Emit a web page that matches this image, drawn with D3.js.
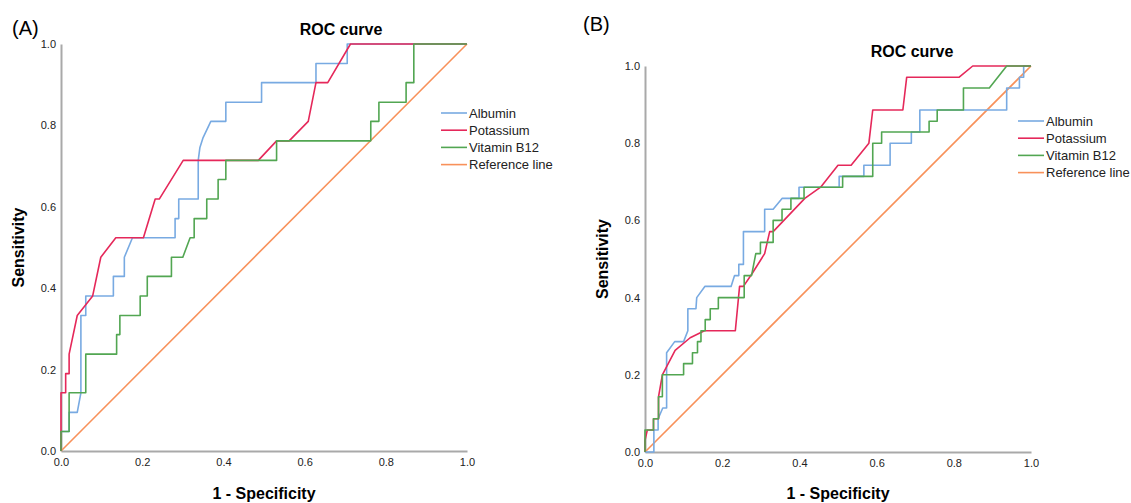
<!DOCTYPE html>
<html>
<head>
<meta charset="utf-8">
<script src="https://cdn.jsdelivr.net/npm/d3@7"></script>
<style>
  body { margin: 0; background: #fff; }
  svg { display: block; font-family: "Liberation Sans", Arial, sans-serif; }
</style>
</head>
<body>
<div id="chart"></div>
<script>
const series = ["Albumin", "Potassium", "Vitamin B12", "Reference line"];
const colors = ["#78aae2", "#e5285a", "#52a652", "#f8915a"];
const ticks = [0, 0.2, 0.4, 0.6, 0.8, 1.0];

// panel A points: [1 - specificity, sensitivity]
const albuminA = [[0,0],[0,0.048],[0.02,0.048],[0.02,0.095],[0.04,0.095],[0.049,0.143],[0.049,0.333],[0.061,0.333],[0.061,0.381],[0.129,0.381],[0.129,0.429],[0.156,0.429],[0.156,0.476],[0.176,0.524],[0.281,0.524],[0.281,0.571],[0.29,0.571],[0.29,0.619],[0.338,0.619],[0.338,0.714],[0.342,0.745],[0.35,0.77],[0.369,0.81],[0.406,0.81],[0.406,0.857],[0.494,0.857],[0.494,0.905],[0.628,0.905],[0.628,0.952],[0.705,0.952],[0.705,1],[1,1]];
const potassiumA = [[0,0],[0,0.143],[0.0115,0.143],[0.0115,0.19],[0.02,0.19],[0.02,0.238],[0.04,0.333],[0.078,0.381],[0.098,0.476],[0.135,0.524],[0.203,0.524],[0.232,0.619],[0.242,0.619],[0.301,0.714],[0.486,0.714],[0.531,0.762],[0.562,0.762],[0.609,0.81],[0.628,0.905],[0.657,0.905],[0.713,1],[1,1]];
const vitaminA = [[0,0],[0,0.048],[0.02,0.048],[0.02,0.143],[0.061,0.143],[0.061,0.238],[0.137,0.238],[0.137,0.286],[0.145,0.286],[0.145,0.333],[0.195,0.333],[0.195,0.381],[0.2125,0.381],[0.2125,0.429],[0.272,0.429],[0.272,0.476],[0.30,0.476],[0.318,0.524],[0.328,0.524],[0.328,0.571],[0.359,0.571],[0.359,0.619],[0.387,0.619],[0.387,0.667],[0.406,0.667],[0.406,0.714],[0.531,0.714],[0.531,0.762],[0.763,0.762],[0.763,0.81],[0.783,0.81],[0.783,0.857],[0.85,0.857],[0.85,0.905],[0.869,0.905],[0.869,1],[1,1]];

// panel B points
const albuminB = [[0,0],[0.023,0],[0.023,0.057],[0.034,0.057],[0.034,0.086],[0.046,0.114],[0.056,0.114],[0.056,0.257],[0.077,0.286],[0.1,0.286],[0.111,0.314],[0.111,0.371],[0.132,0.371],[0.134,0.4],[0.155,0.429],[0.223,0.429],[0.232,0.457],[0.243,0.457],[0.243,0.486],[0.255,0.486],[0.255,0.571],[0.31,0.571],[0.31,0.629],[0.332,0.629],[0.355,0.657],[0.399,0.657],[0.399,0.686],[0.503,0.686],[0.503,0.714],[0.567,0.714],[0.567,0.743],[0.635,0.743],[0.635,0.8],[0.69,0.8],[0.69,0.829],[0.712,0.829],[0.712,0.886],[0.937,0.886],[0.937,0.943],[0.97,0.943],[0.97,0.971],[0.981,0.971],[0.981,1],[1,1]];
const potassiumB = [[0,0],[0,0.03],[0.006,0.057],[0.022,0.057],[0.022,0.086],[0.035,0.086],[0.035,0.143],[0.045,0.2],[0.078,0.263],[0.117,0.296],[0.154,0.314],[0.234,0.314],[0.245,0.429],[0.255,0.429],[0.278,0.463],[0.31,0.514],[0.323,0.571],[0.332,0.571],[0.414,0.657],[0.455,0.686],[0.5,0.743],[0.534,0.743],[0.58,0.8],[0.59,0.886],[0.668,0.886],[0.678,0.971],[0.814,0.971],[0.849,1],[1,1]];
const vitaminB = [[0,0],[0,0.057],[0.022,0.057],[0.022,0.086],[0.035,0.086],[0.035,0.143],[0.045,0.143],[0.045,0.2],[0.1,0.2],[0.1,0.229],[0.123,0.229],[0.123,0.257],[0.136,0.257],[0.136,0.286],[0.145,0.286],[0.145,0.314],[0.156,0.314],[0.156,0.343],[0.169,0.343],[0.169,0.371],[0.19,0.371],[0.19,0.4],[0.257,0.4],[0.257,0.457],[0.276,0.457],[0.287,0.514],[0.299,0.514],[0.299,0.543],[0.332,0.543],[0.332,0.6],[0.355,0.6],[0.355,0.629],[0.378,0.629],[0.378,0.657],[0.412,0.657],[0.412,0.686],[0.512,0.686],[0.512,0.714],[0.59,0.714],[0.59,0.8],[0.613,0.8],[0.613,0.829],[0.736,0.829],[0.736,0.857],[0.757,0.857],[0.757,0.886],[0.825,0.886],[0.825,0.943],[0.892,0.943],[0.937,1],[1,1]];
const referenceLine = [[0,0],[1,1]];

const width = 1131, height = 503;
const svg = d3.select("#chart").append("svg").attr("width", width).attr("height", height);

const panels = [
  { tag: "(A)", tagX: 12, tagY: 35, x0: 61, x1: 467, y0: 451, y1: 44, titleX: 341, titleY: 35,
    yLabX: 24, legX: 441, legY: 113, data: [albuminA, potassiumA, vitaminA, referenceLine] },
  { tag: "(B)", tagX: 583, tagY: 31, x0: 645, x1: 1031, y0: 452, y1: 66, titleX: 912, titleY: 57,
    yLabX: 608, legX: 1018, legY: 121, data: [albuminB, potassiumB, vitaminB, referenceLine] }
];

panels.forEach((p) => {
  const x = d3.scaleLinear().domain([0, 1]).range([p.x0, p.x1]);
  const y = d3.scaleLinear().domain([0, 1]).range([p.y0, p.y1]);
  const g = svg.append("g");

  g.append("text").attr("x", p.tagX).attr("y", p.tagY).attr("font-size", 20).text(p.tag);

  g.append("text")
    .attr("x", p.titleX).attr("y", p.titleY)
    .attr("text-anchor", "middle").attr("font-size", 16).attr("font-weight", "bold")
    .text("ROC curve");

  // axes
  const xAxis = g.append("g")
    .attr("transform", `translate(0,${p.y0})`)
    .call(d3.axisBottom(x).tickValues(ticks).tickFormat(d3.format(".1f")).tickSize(0).tickPadding(7));
  const yAxis = g.append("g")
    .attr("transform", `translate(${p.x0},0)`)
    .call(d3.axisLeft(y).tickValues(ticks).tickFormat(d3.format(".1f")).tickSize(0).tickPadding(5));
  [xAxis, yAxis].forEach((a) => {
    a.select(".domain").attr("stroke", "#a9a9a9").attr("stroke-width", 2);
    a.selectAll("text").attr("font-size", 11).attr("fill", "#222").attr("font-family", "Liberation Sans, Arial, sans-serif");
  });

  g.append("text")
    .attr("transform", `translate(${p.yLabX},${(p.y0 + p.y1) / 2}) rotate(-90)`)
    .attr("text-anchor", "middle").attr("font-size", 16).attr("font-weight", "bold")
    .text("Sensitivity");

  g.append("text")
    .attr("x", (p.x0 + p.x1) / 2).attr("y", 499)
    .attr("text-anchor", "middle").attr("font-size", 16).attr("font-weight", "bold")
    .text("1 - Specificity");

  // curves: reference first so that others sit on top
  const line = d3.line().x((d) => x(d[0])).y((d) => y(d[1]));
  [3, 0, 1, 2].forEach((i) => {
    g.append("path")
      .datum(p.data[i])
      .attr("fill", "none")
      .attr("stroke", colors[i])
      .attr("stroke-width", 1.6)
      .attr("stroke-linejoin", "round")
      .attr("d", line);
  });

  // legend
  const leg = g.append("g").attr("transform", `translate(${p.legX},${p.legY})`);
  const item = leg.selectAll("g").data(series).join("g")
    .attr("transform", (d, i) => `translate(0,${i * 17.2})`);
  item.append("line").attr("x1", 0).attr("x2", 26).attr("stroke", (d, i) => colors[i]).attr("stroke-width", 1.6);
  item.append("text").attr("x", 28).attr("dy", "0.35em").attr("font-size", 13).attr("fill", "#222").text((d) => d);
});
</script>
</body>
</html>
